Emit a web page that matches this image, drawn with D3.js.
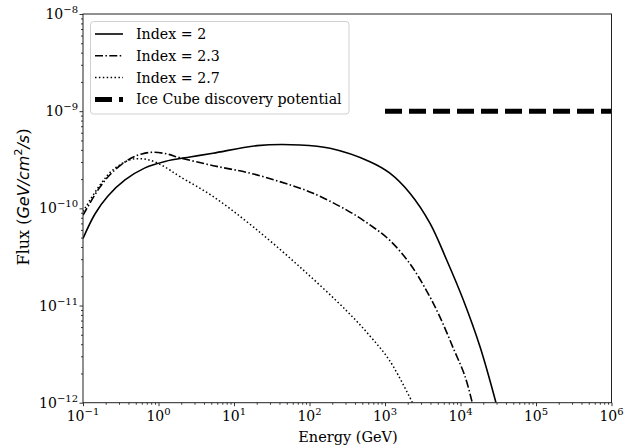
<!DOCTYPE html>
<html>
<head>
<meta charset="utf-8">
<script src="https://cdn.jsdelivr.net/npm/d3@7"></script>
<style>
body { margin: 0; background: #fff; }
text { fill: #000; }
</style>
</head>
<body>
<div id="chart"></div>
<script>
// values (energy in GeV, flux in GeV/cm^2/s)
var energy2 = [0.1, 0.144, 0.214, 0.36, 0.662, 1.22, 2.61, 5.27, 20.2, 74.8, 187, 632, 1160, 2140, 3950, 6560, 10900, 18100, 29500]
var flux2 = [4.9e-11, 8.75e-11, 1.34e-10, 1.96e-10, 2.61e-10, 3.04e-10, 3.38e-10, 3.69e-10, 4.42e-10, 4.49e-10, 4.15e-10, 3.02e-10, 2.30e-10, 1.43e-10, 7.0e-11, 2.94e-11, 1.14e-11, 3.78e-12, 1e-12]

var energy23 = [0.1, 0.168, 0.252, 0.42, 0.6, 0.85, 1.29, 1.93, 5.32, 18, 74.8, 112, 311, 632, 1160, 2140, 3570, 5350, 8040, 11500, 14300]
var flux23 = [8.5e-11, 1.66e-10, 2.40e-10, 3.24e-10, 3.63e-10, 3.78e-10, 3.63e-10, 3.31e-10, 2.75e-10, 2.26e-10, 1.61e-10, 1.43e-10, 9.6e-11, 6.76e-11, 4.68e-11, 2.69e-11, 1.41e-11, 7.59e-12, 3.63e-12, 1.86e-12, 1e-12]

var energy27 = [0.1, 0.168, 0.252, 0.42, 0.569, 0.771, 1.16, 1.93, 5.32, 18, 74.8, 311, 632, 1160, 2310]
var flux27 = [9.3e-11, 1.74e-10, 2.51e-10, 3.16e-10, 3.24e-10, 3.13e-10, 2.72e-10, 2.12e-10, 1.32e-10, 6.44e-11, 2.49e-11, 8.8e-12, 4.86e-12, 2.69e-12, 1e-12]

var energyIce = [1e3, 1e6]
var fluxIce = [1e-9, 1e-9]

var xTickExp = [-1, 0, 1, 2, 3, 4, 5, 6]
var yTickExp = [-12, -11, -10, -9, -8]
var legendLabels = ["Index = 2", "Index = 2.3", "Index = 2.7", "Ice Cube discovery potential"]

var width = 633
var height = 448
var plotL = 83, plotR = 611.5, plotT = 14, plotB = 402.7

var svg = d3.select("#chart").append("svg")
    .attr("width", width)
    .attr("height", height)

var x = d3.scaleLog().domain([1e-1, 1e6]).range([plotL, plotR])
var y = d3.scaleLog().domain([1e-12, 1e-8]).range([plotB, plotT])

svg.append("clipPath").attr("id", "clip")
    .append("rect")
    .attr("x", plotL).attr("y", plotT)
    .attr("width", plotR - plotL).attr("height", plotB - plotT)

function pairs(xs, ys) {
    return xs.map(function(d, i) { return [d, ys[i]] })
}

var line = d3.line()
    .x(function(d) { return x(d[0]) })
    .y(function(d) { return y(d[1]) })
    .curve(d3.curveCatmullRom.alpha(0.5))

var series = [
    {data: pairs(energy2, flux2), dash: null, width: 1.6},
    {data: pairs(energy23, flux23), dash: "8,2.4,1.5,2.4", width: 1.6},
    {data: pairs(energy27, flux27), dash: "1.5,2.4", width: 1.5},
    {data: pairs(energyIce, fluxIce), dash: "17,7", width: 5}
]

var plot = svg.append("g").attr("clip-path", "url(#clip)")
plot.selectAll("path")
    .data(series)
    .enter().append("path")
    .attr("d", function(s) { return line(s.data) })
    .attr("fill", "none")
    .attr("stroke", "#000")
    .attr("stroke-width", function(s) { return s.width })
    .attr("stroke-dasharray", function(s) { return s.dash })

// minor tick values
function minors(lo, hi) {
    var out = []
    for (var e = lo; e < hi; e++)
        for (var k = 2; k < 10; k++) out.push(k * Math.pow(10, e))
    return out
}

var xMajor = xTickExp.map(function(e) { return Math.pow(10, e) })
var yMajor = yTickExp.map(function(e) { return Math.pow(10, e) })

function styleAxis(g) {
    g.select(".domain").remove()
    g.selectAll("line").attr("stroke", "#000").attr("stroke-width", 0.8)
}

svg.append("g").attr("transform", "translate(0," + plotB + ")")
    .call(d3.axisBottom(x).tickValues(minors(-1, 6)).tickSize(2).tickFormat(""))
    .call(styleAxis)
svg.append("g").attr("transform", "translate(0," + plotB + ")")
    .call(d3.axisBottom(x).tickValues(xMajor).tickSize(3.5).tickFormat(""))
    .call(styleAxis)
svg.append("g").attr("transform", "translate(" + plotL + ",0)")
    .call(d3.axisLeft(y).tickValues(minors(-12, -8)).tickSize(2).tickFormat(""))
    .call(styleAxis)
svg.append("g").attr("transform", "translate(" + plotL + ",0)")
    .call(d3.axisLeft(y).tickValues(yMajor).tickSize(3.5).tickFormat(""))
    .call(styleAxis)

// frame
svg.append("rect")
    .attr("x", plotL).attr("y", plotT)
    .attr("width", plotR - plotL).attr("height", plotB - plotT)
    .attr("fill", "none").attr("stroke", "#222").attr("stroke-width", 1)

var serif = "DejaVu Serif, serif"

function powerLabel(sel, exp) {
    sel.append("tspan").text("10")
    sel.append("tspan").attr("dy", -6).attr("font-size", 10).text(exp < 0 ? "\u2212" + (-exp) : exp)
}

svg.append("g").selectAll("text")
    .data(xTickExp)
    .enter().append("text")
    .attr("x", function(e) { return x(Math.pow(10, e)) })
    .attr("y", 421)
    .attr("text-anchor", "middle")
    .attr("font-family", serif)
    .attr("font-size", 14)
    .each(function(e) { powerLabel(d3.select(this), e) })

svg.append("g").selectAll("text")
    .data(yTickExp)
    .enter().append("text")
    .attr("x", 78)
    .attr("y", function(e) { return y(Math.pow(10, e)) + 5 })
    .attr("text-anchor", "end")
    .attr("font-family", serif)
    .attr("font-size", 14)
    .each(function(e) { powerLabel(d3.select(this), e) })

svg.append("text")
    .attr("x", 348)
    .attr("y", 442)
    .attr("text-anchor", "middle")
    .attr("font-family", serif)
    .attr("font-size", 14.5)
    .text("Energy (GeV)")

var yl = svg.append("text")
    .attr("transform", "translate(29,197) rotate(-90)")
    .attr("text-anchor", "middle")
    .attr("font-family", serif)
    .attr("font-size", 16)
yl.append("tspan").text("Flux (")
yl.append("tspan").attr("font-family", "DejaVu Sans").attr("font-style", "italic").text("GeV/cm")
yl.append("tspan").attr("font-family", "DejaVu Sans").attr("font-size", 11).attr("dy", -7).text("2")
yl.append("tspan").attr("font-family", "DejaVu Sans").attr("font-style", "italic").attr("dy", 7).text("/s")
yl.append("tspan").text(")")

// legend
var legend = svg.append("g")
legend.append("rect")
    .attr("x", 90.5).attr("y", 21.5)
    .attr("width", 258.5).attr("height", 92.5)
    .attr("rx", 3)
    .attr("fill", "#fff").attr("fill-opacity", 0.8)
    .attr("stroke", "#d0d0d0")

var rows = legend.selectAll("g.row")
    .data(series)
    .enter().append("g")
    .attr("class", "row")
    .attr("transform", function(s, i) { return "translate(0," + (34 + i * 21.8) + ")" })

rows.append("line")
    .attr("x1", 95).attr("x2", 123)
    .attr("stroke", "#000")
    .attr("stroke-width", function(s) { return s.width })
    .attr("stroke-dasharray", function(s) { return s.dash })

rows.append("text")
    .attr("x", 136)
    .attr("y", 5)
    .attr("font-family", serif)
    .attr("font-size", 14.2)
    .text(function(s, i) { return legendLabels[i] })
</script>
</body>
</html>
